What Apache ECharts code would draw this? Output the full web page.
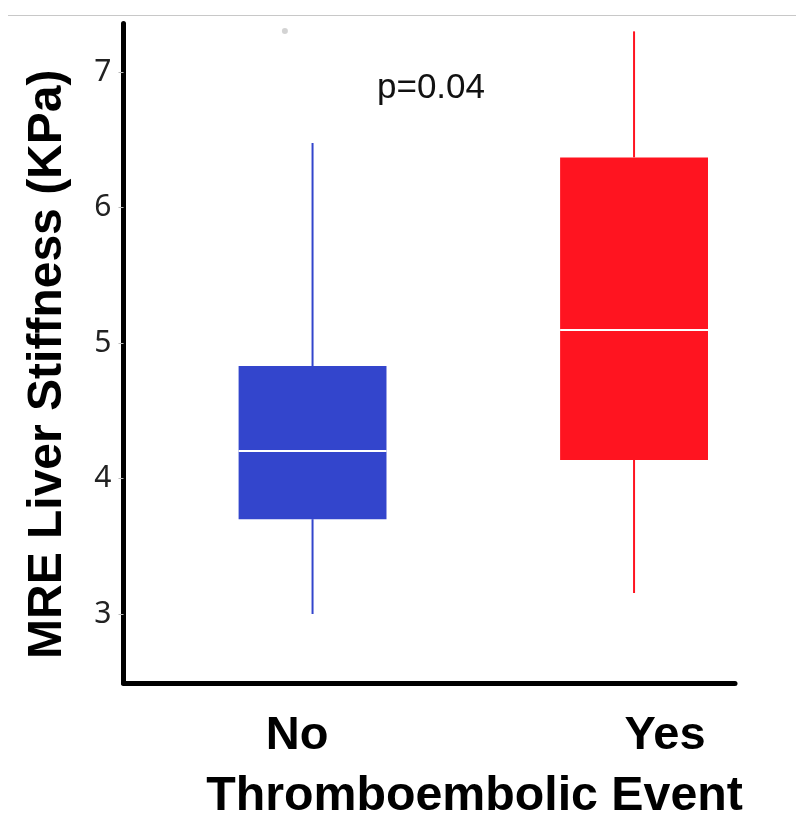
<!DOCTYPE html>
<html>
<head>
<meta charset="utf-8">
<script src="https://cdn.jsdelivr.net/npm/echarts@6/dist/echarts.min.js"></script>
<style>
html,body{margin:0;padding:0;background:#fff;}
#chart{width:796px;height:818px;}
</style>
</head>
<body>
<div id="chart"></div>
<script>
// ---- data ----
const categories = ['No', 'Yes'];
const catPositions = [1, 2];
const whiskerLow = [3.00, 3.155];
const q1Values = [3.70, 4.137];
const medianValues = [4.203, 5.096];
const q3Values = [4.83, 6.37];
const whiskerHigh = [6.476, 7.30];
const outlierPoints = [[0.914, 7.303]];
const yTicks = [3, 4, 5, 6, 7];
const boxColors = ['#3345CC', '#FF1420'];
const pValueText = 'p=0.04';
const yAxisTitle = 'MRE Liver Stiffness (KPa)';
const xAxisTitle = 'Thromboembolic Event';

const boxData = categories.map((c, i) => [catPositions[i], whiskerLow[i], q1Values[i], medianValues[i], q3Values[i], whiskerHigh[i], i]);

const chart = echarts.init(document.getElementById('chart'), null, {renderer: 'canvas'});
const BOX_W = 0.46;

const option = {
  backgroundColor: '#fff',
  animation: false,
  grid: {left: 123.5, right: 61, top: 23.5, bottom: 135},
  xAxis: [{
    type: 'value', min: 0.412, max: 2.314,
    axisLine: {show: true, onZero: false, lineStyle: {color: '#000', width: 5, cap: 'round'}},
    axisTick: {show: false}, axisLabel: {show: false}, splitLine: {show: false}
  }, {
    type: 'value', min: 0.5285, max: 2.19, position: 'bottom',
    axisLine: {show: false}, axisTick: {show: false}, splitLine: {show: false},
    axisLabel: {
      show: true, customValues: catPositions, margin: 30,
      formatter: v => { const i = catPositions.indexOf(v); return i >= 0 ? categories[i] : ''; },
      fontFamily: 'Liberation Sans, Arial, sans-serif', fontWeight: 'bold', fontSize: 47, color: '#000'
    }
  }],
  yAxis: {
    type: 'value', min: 2.491, max: 7.358,
    axisLine: {show: true, onZero: false, lineStyle: {color: '#000', width: 5, cap: 'round'}},
    axisTick: {show: true, customValues: yTicks, length: 5, lineStyle: {color: '#bbb', width: 1}},
    axisLabel: {
      show: true, customValues: yTicks, margin: 12,
      formatter: v => (yTicks.indexOf(v) >= 0 ? String(v) : ''),
      fontFamily: 'Noto Sans, Liberation Sans, sans-serif', fontSize: 30, color: '#222'
    },
    splitLine: {show: false},
    name: yAxisTitle, nameLocation: 'middle', nameGap: 52, nameRotate: 90,
    nameTextStyle: {fontFamily: 'Liberation Sans, Arial, sans-serif', fontWeight: 'bold', fontSize: 48, color: '#000', padding: [0, 22, 0, 0]}
  },
  series: [{
    type: 'custom',
    xAxisIndex: 0, yAxisIndex: 0,
    data: boxData,
    encode: {x: 0, y: [1, 2, 3, 4, 5]},
    renderItem: function (params, api) {
      const x = api.value(0);
      const idx = api.value(6);
      const color = boxColors[idx];
      const pLow = api.coord([x, api.value(1)]);
      const pQ1 = api.coord([x, api.value(2)]);
      const pMed = api.coord([x, api.value(3)]);
      const pQ3 = api.coord([x, api.value(4)]);
      const pHigh = api.coord([x, api.value(5)]);
      const halfW = api.size([BOX_W, 0])[0] / 2;
      return {
        type: 'group',
        children: [
          {type: 'line', shape: {x1: pLow[0], y1: pLow[1], x2: pQ1[0], y2: pQ1[1]}, style: {stroke: color, lineWidth: 2}},
          {type: 'line', shape: {x1: pQ3[0], y1: pQ3[1], x2: pHigh[0], y2: pHigh[1]}, style: {stroke: color, lineWidth: 2}},
          {type: 'rect', shape: {x: pQ3[0] - halfW, y: pQ3[1], width: halfW * 2, height: pQ1[1] - pQ3[1]}, style: {fill: color}},
          {type: 'line', shape: {x1: pMed[0] - halfW, y1: pMed[1], x2: pMed[0] + halfW, y2: pMed[1]}, style: {stroke: '#fff', lineWidth: 2}}
        ]
      };
    }
  }, {
    type: 'scatter', xAxisIndex: 0, yAxisIndex: 0,
    data: outlierPoints, symbolSize: 6,
    itemStyle: {color: '#c8c8c8'}
  }],
  graphic: [
    {type: 'line', shape: {x1: 8, y1: 15.5, x2: 796, y2: 15.5}, style: {stroke: '#c8c8c8', lineWidth: 1}},
    {type: 'text', x: 431, y: 88, style: {text: pValueText, fontFamily: 'Liberation Sans, Arial, sans-serif', fontSize: 35, fill: '#111', textAlign: 'center', textVerticalAlign: 'middle'}},
    {type: 'text', x: 474.5, y: 797, style: {text: xAxisTitle, fontFamily: 'Liberation Sans, Arial, sans-serif', fontWeight: 'bold', fontSize: 48.3, fill: '#000', textAlign: 'center', textVerticalAlign: 'middle'}}
  ]
};
chart.setOption(option);
</script>
</body>
</html>
